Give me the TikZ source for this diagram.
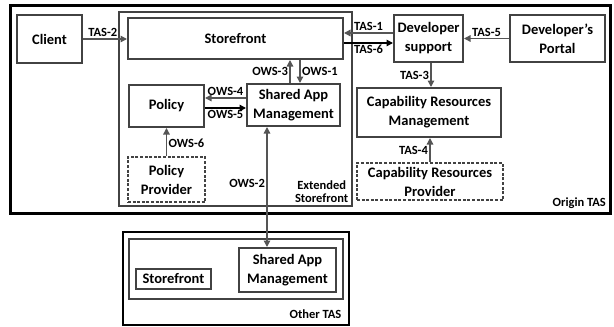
\documentclass[tikz,border=0pt]{standalone}
\usepackage{fontspec}
\setmainfont{Carlito}
\usetikzlibrary{arrows.meta}
\definecolor{boxgray}{HTML}{424242}
\definecolor{arrowgray}{HTML}{555555}

\begin{document}
\begin{tikzpicture}[x=1pt,y=-1pt,
  box/.style={draw=boxgray,line width=2pt,align=center,inner sep=0pt,
    font=\bfseries\fontsize{14.5}{19}\selectfont},
  dashbox/.style={box,dash pattern=on 3pt off 1.6pt},
  frame/.style={draw,inner sep=0pt},
  lbl/.style={text=black,font=\bfseries\fontsize{12.5}{13}\selectfont,inner sep=1.5pt},
  link/.style={arrowgray,line width=1.3pt,-{Triangle[length=6.5pt,width=6.5pt]}},
  blink/.style={link,black}]
  \useasboundingbox (0,0) rectangle (614,327);

  \node[frame,line width=3pt,minimum width=600pt,minimum height=208pt] (origin) at (310,109) {};
  \node[frame,draw=boxgray,line width=2pt,minimum width=233pt,minimum height=194pt] (ext) at (235.5,109) {};
  \node[frame,line width=2pt,minimum width=226pt,minimum height=93pt] (other) at (236,278.5) {};
  \node[frame,draw=boxgray,line width=2.5pt,minimum width=214pt,minimum height=60pt] (otherin) at (236,269) {};

  \node[box,minimum width=65pt,minimum height=48pt] (client) at (49.5,39) {Client};
  \node[box,minimum width=215pt,minimum height=41pt] (store) at (235.5,38.5) {Storefront};
  \node[box,minimum width=75pt,minimum height=42pt] (policy) at (166.5,106) {Policy};
  \node[box,minimum width=93pt,minimum height=42pt] (sam) at (293.5,105) {Shared App\\Management};
  \node[dashbox,minimum width=77pt,minimum height=45pt] (pprov) at (166.5,179.5) {Policy\\Provider};
  \node[box,minimum width=69pt,minimum height=47pt] (devsup) at (428.5,38.5) {Developer\\support};
  \node[box,minimum width=95pt,minimum height=47pt] (portal) at (557.5,38.5) {Developer{\char"27}s\\Portal};
  \node[box,minimum width=144pt,minimum height=49pt] (crm) at (429,112.5) {Capability Resources\\Management};
  \node[dashbox,minimum width=146pt,minimum height=37pt] (crp) at (430,181.5) {Capability Resources\\Provider};
  \node[box,minimum width=75pt,minimum height=20pt] (ostore) at (173.5,279) {Storefront};
  \node[box,minimum width=97pt,minimum height=44pt] (osam) at (287.5,270) {Shared App\\Management};

  \node[lbl,anchor=south east,align=center] at ([xshift=-3pt,yshift=3pt]ext.south east) {Extended\\Storefront};
  \node[lbl,anchor=south east] at ([xshift=-4pt,yshift=4pt]origin.south east) {Origin TAS};
  \node[lbl,anchor=south east] at ([xshift=-7pt,yshift=6pt]other.south east) {Other TAS};

  \draw[link] (client.east) -- (client.east -| store.west) node[lbl,above,pos=0.45] {TAS-2};
  \draw[link] ([yshift=5.5pt]devsup.west) -- ([yshift=5.5pt]devsup.west -| store.east) node[lbl,above,pos=0.5] {TAS-1};
  \draw[blink] ([yshift=-4.5pt]store.east |- devsup.west) -- ([yshift=-4.5pt]devsup.west) node[lbl,below,pos=0.5] {TAS-6};
  \draw[link] (portal.west) -- (devsup.east) node[lbl,above,pos=0.5] {TAS-5};
  \draw[link] ([xshift=2.5pt]devsup.south) -- ([xshift=2.5pt]devsup.south |- crm.north) node[lbl,left,pos=0.5] {TAS-3};
  \draw[link] (crp.north) -- (crp.north |- crm.south) node[lbl,left,pos=0.5] {TAS-4};
  \draw[link] ([xshift=-3.5pt]sam.north) -- ([xshift=-3.5pt]sam.north |- store.south) node[lbl,left,pos=0.5] {OWS-3};
  \draw[link] ([xshift=6.5pt]sam.north |- store.south) -- ([xshift=6.5pt]sam.north) node[lbl,right,pos=0.5] {OWS-1};
  \draw[link] ([yshift=7pt]sam.west) -- ([yshift=7pt]sam.west -| policy.east) node[lbl,above,pos=0.5] {OWS-4};
  \draw[blink] ([yshift=-2pt]policy.east) -- ([yshift=-2pt]policy.east -| sam.west) node[lbl,below,pos=0.5] {OWS-5};
  \draw[link] (pprov.north) -- (policy.south) node[lbl,right,pos=0.45] {OWS-6};
  \draw[link,{Triangle[length=6.5pt,width=6.5pt]}-{Triangle[length=6.5pt,width=6.5pt]}] ([xshift=-26.5pt]sam.south) -- ([xshift=-26.5pt]sam.south |- osam.north) node[lbl,left,pos=0.47] {OWS-2};
\end{tikzpicture}
\end{document}
